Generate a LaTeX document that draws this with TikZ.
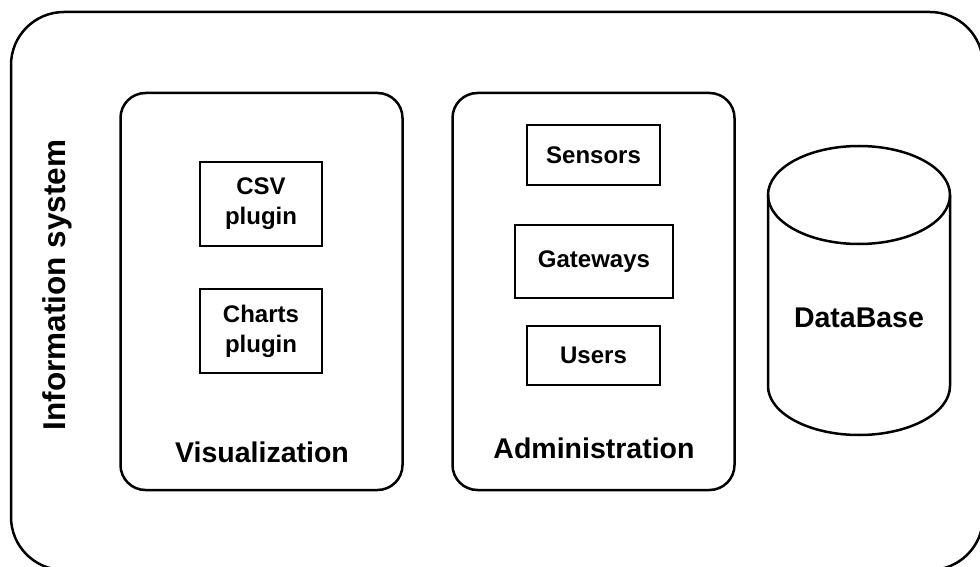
\documentclass[tikz,border=0pt]{standalone}
\usepackage{fontspec}
\setmainfont{Liberation Sans}
\usepackage{tikz}

\tikzset{
	box/.style={draw, line width=2.5pt, align=center, inner sep=0pt, font=\fontsize{24}{30}\selectfont\bfseries},
	group/.style={draw, line width=2.5pt, rounded corners=25pt, minimum width=282pt, minimum height=397pt},
	title/.style={font=\fontsize{28.5}{34}\selectfont\bfseries}
}

\begin{document}
\begin{tikzpicture}[x=1pt, y=-1pt]
			\clip (0,0) rectangle (980,567);
			\coordinate (topleft) at (11,12);
			\coordinate (bottomright) at (983,570);
			% outer frame, runs off the page on the right and bottom
			\draw[line width=2.5pt, rounded corners=53pt] (topleft) rectangle (bottomright);
			\node[title, font=\fontsize{31.5}{36}\selectfont\bfseries, rotate=90] (info) at (57,285) {Information system};
			% Visualization part
			\node[group] (vis) at (261.5,291.5) {};
			\node[box, minimum width=122pt, minimum height=84pt] (csv) at (261,204) {CSV\\plugin};
			\node[box, minimum width=122pt, minimum height=84pt] (charts) at (261,331) {Charts\\plugin};
			\node[title] (vislabel) at (262,452) {Visualization};
			% Administration part
			\node[group] (admin) at (593.5,291.5) {};
			\node[box, minimum width=133pt, minimum height=60pt] (sensors) at (593.5,155) {Sensors};
			\node[box, minimum width=158pt, minimum height=73pt] (gateways) at (594,261.5) {Gateways};
			\node[box, minimum width=133pt, minimum height=59pt] (users) at (593.5,355.5) {Users};
			\node[title] (adminlabel) at (594,448) {Administration};
			% DataBase cylinder
			\coordinate (dbtop) at (859,195);
			\coordinate (dbleft) at (768,195);
			\coordinate (dbright) at (950,195);
			\draw[line width=2.5pt] (dbtop) ellipse[x radius=91, y radius=49];
			\draw[line width=2.5pt] (dbleft) -- ++(0,191) arc[start angle=180, end angle=0, x radius=91, y radius=49] -- (dbright);
			\node[title] (db) at (859,318) {DataBase};
\end{tikzpicture}
\end{document}
